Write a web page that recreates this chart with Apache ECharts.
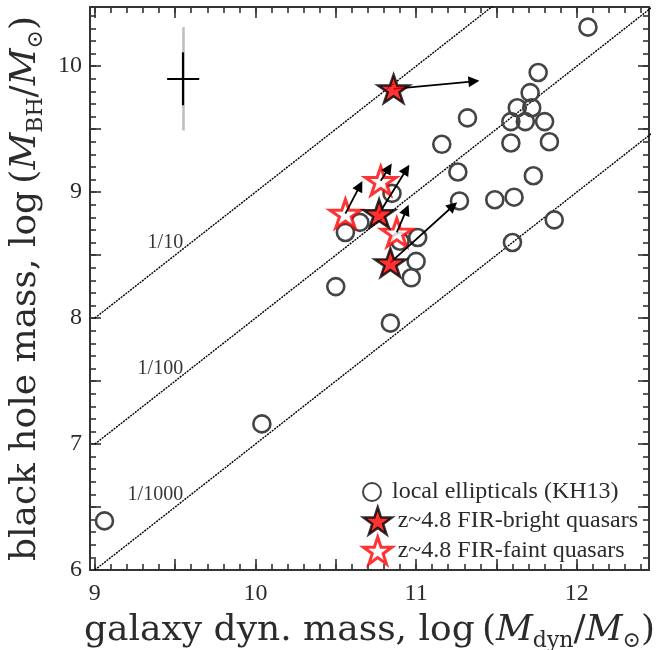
<!DOCTYPE html>
<html>
<head>
<meta charset="utf-8">
<style>
  html, body { margin: 0; padding: 0; background: #fff; }
  #chart { width: 659px; height: 650px; }
</style>
<script src="https://cdn.jsdelivr.net/npm/echarts@6/dist/echarts.min.js"></script>
</head>
<body>
<div id="chart"></div>
<script>
// ---------- data ----------
const xRange = [8.97, 12.45];
const yRange = [6, 10.47];
const xTickLabels = [9, 10, 11, 12];
const yTickLabels = [6, 7, 8, 9, 10];

// local ellipticals (KH13): [log Mdyn, log MBH]
const ellipticals = [
  [12.07, 10.31], [11.76, 9.95], [11.71, 9.79], [11.63, 9.67], [11.72, 9.67],
  [11.59, 9.56], [11.68, 9.56], [11.80, 9.56], [11.32, 9.59], [11.16, 9.38],
  [11.59, 9.39], [11.83, 9.40], [11.26, 9.16], [11.73, 9.13], [11.49, 8.94],
  [11.61, 8.96], [11.27, 8.93], [11.86, 8.78], [11.60, 8.60], [10.85, 8.99],
  [11.01, 8.64], [10.90, 8.61], [11.00, 8.45], [10.97, 8.32], [10.56, 8.68],
  [10.65, 8.76], [10.50, 8.25], [10.84, 7.96], [10.04, 7.16], [9.06, 6.39]
];
// z~4.8 FIR-bright quasars
const brightQSO = [[10.86, 9.82], [10.77, 8.83], [10.84, 8.44]];
const brightArrowEnds = [[11.36, 9.88], [10.94, 9.18], [11.23, 8.89]];
// z~4.8 FIR-faint quasars
const faintQSO = [[10.56, 8.83], [10.78, 9.09], [10.88, 8.68]];
const faintArrowEnds = [[10.65, 9.05], [10.83, 9.19], [10.94, 8.86]];

// mass-ratio reference lines
const ratioLabels = ['1/10', '1/100', '1/1000'];
const ratioLogs = [-1, -2, -3];
const ratioLineX = [9, 12.6];
const ratioLabelX = 9.55;

// representative error bar
const errCenter = [9.55, 9.9];
const errX = 0.1;
const errYInner = 0.21;
const errYOuter = 0.41;

// ---------- helpers ----------
function range(a, b, step) {
  const out = [];
  for (let v = a; v <= b + 1e-9; v += step) out.push(Math.round(v * 100) / 100);
  return out;
}
const xMajor = range(9, 12, 0.5);
const xMinor = range(9, 12.4, 0.1);
const yMajor = range(6, 10, 0.5);
const yMinor = range(6, 10.4, 0.1);

const FONT = 'Liberation Serif';
const TFONT = 'DejaVu Serif';
const TXT = '#2b2b2b';
const AX = '#333';

function xAx(pos, ticks, len, showLine, labels) {
  return {
    type: 'value', position: pos, min: xRange[0], max: xRange[1],
    axisLine: { show: showLine, onZero: false, lineStyle: { color: AX, width: 2 } },
    axisTick: { show: true, inside: true, length: len, customValues: ticks,
                lineStyle: { color: AX, width: 1.6 } },
    axisLabel: labels ? { show: true, customValues: xTickLabels, margin: 12,
                fontFamily: FONT, fontSize: 24, color: TXT } : { show: false },
    splitLine: { show: false }
  };
}
function yAx(pos, ticks, len, showLine, labels) {
  return {
    type: 'value', position: pos, min: yRange[0], max: yRange[1],
    axisLine: { show: showLine, onZero: false, lineStyle: { color: AX, width: 2 } },
    axisTick: { show: true, inside: true, length: len, customValues: ticks,
                lineStyle: { color: AX, width: 1.6 } },
    axisLabel: labels ? { show: true, customValues: yTickLabels, margin: 8,
                fontFamily: FONT, fontSize: 24, color: TXT } : { show: false },
    splitLine: { show: false }
  };
}

const richName = {
  a: { fontFamily: TFONT, fontSize: 36, color: TXT, lineHeight: 42 },
  i: { fontFamily: TFONT, fontSize: 36, fontStyle: 'italic', color: TXT, lineHeight: 42 },
  s: { fontFamily: TFONT, fontSize: 22, color: TXT, lineHeight: 22, verticalAlign: 'bottom' }
};

const xAxes = [
  xAx('bottom', xMajor, 11, true, true),
  xAx('bottom', xMinor, 6, false, false),
  xAx('top', xMajor, 11, true, false),
  xAx('top', xMinor, 6, false, false)
];
Object.assign(xAxes[0], {
  name: '{a|galaxy dyn. mass, log\u2009(}{i|M}{s|dyn}{a|/}{i|M}{s|\u2299}{a|)}',
  nameLocation: 'middle', nameGap: 40, nameTextStyle: { rich: richName }
});
const yAxes = [
  yAx('left', yMajor, 11, true, true),
  yAx('left', yMinor, 6, false, false),
  yAx('right', yMajor, 11, true, false),
  yAx('right', yMinor, 6, false, false)
];
Object.assign(yAxes[0], {
  name: '{a|black hole mass, log\u2009(}{i|M}{s|BH}{a|/}{i|M}{s|\u2299}{a|)}',
  nameLocation: 'middle', nameGap: 43, nameRotate: 90, nameTextStyle: { rich: richName }
});

const STAR = 'path://M0,-1 L0.2245,-0.309 L0.951,-0.309 L0.363,0.118 L0.588,0.809 L0,0.382 L-0.588,0.809 L-0.363,0.118 L-0.951,-0.309 L-0.2245,-0.309 Z';

const ratioSeries = ratioLogs.map((lg, k) => ({
  type: 'line', name: 'ratio' + k, xAxisIndex: 0, yAxisIndex: 0,
  data: ratioLineX.map(x => [x, x + lg]),
  symbol: 'none', clip: true, silent: true, z: 1,
  lineStyle: { color: '#000', width: 1.4, type: [2, 1] }
}));

const arrowData = brightQSO.map((p, k) => ({ coords: [p, brightArrowEnds[k]] }))
  .concat(faintQSO.map((p, k) => ({ coords: [p, faintArrowEnds[k]] })));

const errSegs = [
  { coords: [[errCenter[0], errCenter[1] - errYOuter], [errCenter[0], errCenter[1] + errYOuter]],
    lineStyle: { color: '#bdbdbd', width: 2.5 } },
  { coords: [[errCenter[0], errCenter[1] - errYInner], [errCenter[0], errCenter[1] + errYInner]],
    lineStyle: { color: '#000', width: 2.2 } },
  { coords: [[errCenter[0] - errX, errCenter[1]], [errCenter[0] + errX, errCenter[1]]],
    lineStyle: { color: '#000', width: 2.2 } }
];

const option = {
  backgroundColor: '#fff',
  animation: false,
  grid: { left: 90, top: 7, right: 10, bottom: 80, containLabel: false, outerBoundsMode: 'none' },
  xAxis: xAxes,
  yAxis: yAxes,
  legend: [
    {
      data: [{ name: 'local ellipticals (KH13)' }],
      left: 357, top: 474, orient: 'vertical', selectedMode: false,
      itemWidth: 30, itemHeight: 18,
      textStyle: { fontFamily: FONT, fontSize: 24, color: TXT, lineHeight: 26 }
    },
    {
      data: [
        { name: 'z~4.8 FIR-bright quasars', itemStyle: { borderWidth: 2.5 } },
        { name: 'z~4.8 FIR-faint quasars', itemStyle: { borderWidth: 3 } }
      ],
      left: 357, top: 501, orient: 'vertical', selectedMode: false,
      itemWidth: 30, itemHeight: 27, itemGap: 0,
      textStyle: { fontFamily: FONT, fontSize: 24, color: TXT, lineHeight: 26 }
    }
  ],
  series: ratioSeries.concat([
    {
      type: 'scatter', name: 'ratioLabels', xAxisIndex: 0, yAxisIndex: 0, silent: true, z: 1,
      data: ratioLogs.map((lg, k) => ({ value: [ratioLabelX, ratioLabelX + lg], name: ratioLabels[k] })),
      symbolSize: 0,
      label: { show: true, formatter: p => p.name, position: [0, 0], offset: [0, 4],
               align: 'right', verticalAlign: 'bottom',
               fontFamily: FONT, fontSize: 20, color: '#000' }
    },
    {
      type: 'lines', name: 'errbar', coordinateSystem: 'cartesian2d', xAxisIndex: 0, yAxisIndex: 0,
      data: errSegs, symbol: 'none', silent: true, z: 2,
      lineStyle: { width: 2.2, opacity: 1 }
    },
    {
      type: 'scatter', name: 'local ellipticals (KH13)', xAxisIndex: 0, yAxisIndex: 0,
      data: ellipticals, symbol: 'circle', symbolSize: 17, z: 2,
      itemStyle: { color: 'rgba(255,255,255,0)', borderColor: '#444', borderWidth: 2.6, opacity: 1 }
    },
    {
      type: 'scatter', name: 'z~4.8 FIR-faint quasars', xAxisIndex: 0, yAxisIndex: 0,
      data: faintQSO, symbol: STAR, symbolSize: [31, 29.5], symbolKeepAspect: true, z: 3,
      itemStyle: { color: '#fff', borderColor: '#ff0000', borderWidth: 3 }
    },
    {
      type: 'lines', name: 'arrows', coordinateSystem: 'cartesian2d', xAxisIndex: 0, yAxisIndex: 0,
      data: arrowData, symbol: ['none', 'triangle'], symbolSize: 11, silent: true, z: 4,
      lineStyle: { color: '#000', width: 1.8, opacity: 1 }
    },
    {
      type: 'scatter', name: 'z~4.8 FIR-bright quasars', xAxisIndex: 0, yAxisIndex: 0,
      data: brightQSO, symbol: STAR, symbolSize: [31, 29.5], symbolKeepAspect: true, z: 5,
      itemStyle: { color: '#ff0000', borderColor: '#000', borderWidth: 2.5 }
    }
  ])
};

const chart = echarts.init(document.getElementById('chart'), null, { renderer: 'canvas' });
chart.setOption(option);
</script>
</body>
</html>
